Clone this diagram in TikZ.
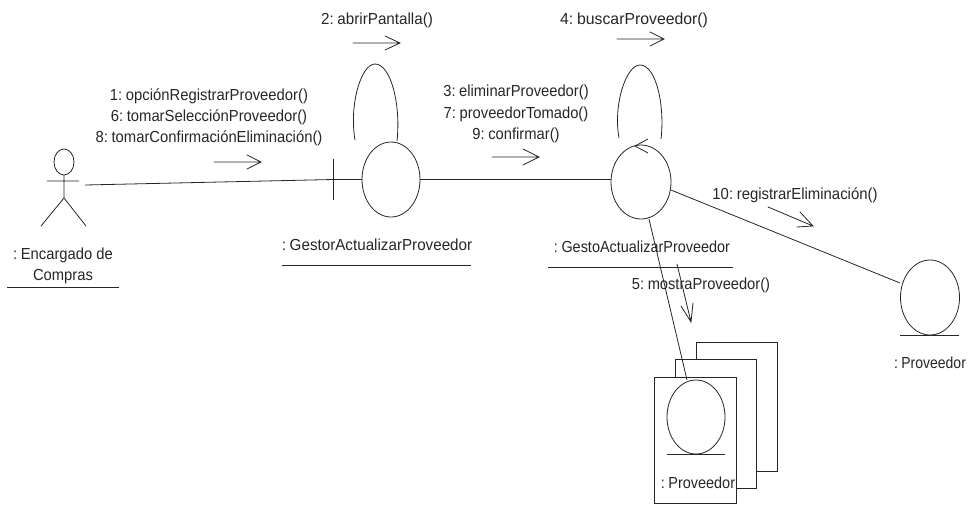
\documentclass[tikz,border=0pt]{standalone}
\usepackage{fontspec}
\setmainfont[FakeStretch=0.95,WordSpace=0.55]{Liberation Sans}
\begin{document}
\begin{tikzpicture}[x=0.75pt,y=-0.75pt,
  lbl/.style={inner sep=0pt,align=center,font=\fontsize{12pt}{15.9pt}\selectfont,text=black!85},
  squeeze/.style={xscale=#1,transform shape},
  ln/.style={draw=black!85,line width=0.6pt},
  msg/.style={ln,line cap=round}]
\useasboundingbox (0,0) rectangle (968,504);
% actor
\draw[ln] (64,162) ellipse [x radius=10,y radius=13];
\coordinate (neck) at (64,175);
\coordinate (hip) at (64,198);
\coordinate (armL) at (47,181);
\coordinate (armR) at (79,181);
\coordinate (legL) at (41,226);
\coordinate (legR) at (86,226);
\coordinate (actorEnd) at (85,185);
\draw[ln] (neck) -- (hip) (armL) -- (armR) (legL) -- (hip) -- (legR);
\node[lbl,squeeze=.97] (actorName) at (63,266) {: Encargado\hspace{1.5pt} de\\Compras};
\draw[ln] (7,287) -- (119,287);
% boundary
\coordinate (bTop) at (333,159);
\coordinate (bBot) at (333,200);
\coordinate (bMid) at (333,179.5);
\draw[ln] (bTop) -- (bBot);
\draw[ln] (391,179.5) ellipse [x radius=29,y radius=37.5];
\coordinate (gW) at (362,179.5);
\coordinate (gE) at (420,179.5);
\draw[ln] (actorEnd) -- (bMid) -- (gW);
\node[lbl] (gName) at (377,245) {: GestorActualizarProveedor};
\draw[ln] (282,265) -- (471,265);
% control
\draw[ln] (641,182) ellipse [x radius=30,y radius=37];
\coordinate (cW) at (611,179.5);
\draw[ln] (gE) -- (cW);
\draw[ln] (648,139) -- (635,146) -- (648,153);
\node[lbl,squeeze=.95] (cName) at (642,247) {: GestoActualizarProveedor};
\draw[ln] (548,267) -- (733,267);
% loops
\draw[ln] (355,140) .. controls (349,105) and (361,64) .. (375,64) .. controls (391,64) and (401,105) .. (397,141);
\draw[ln] (619,138) .. controls (613,105) and (626,65) .. (640,65) .. controls (656,65) and (665,105) .. (661,139);
% right entity
\draw[ln] (930,297.5) ellipse [x radius=29.5,y radius=37.5];
\draw[ln] (900,335) -- (959,335);
\node[lbl,squeeze=.92] (pName) at (930,363) {: Proveedor};
\coordinate (cE) at (671,190);
\coordinate (pW) at (900,283);
\draw[ln] (cE) -- (pW);
% multi-object
\draw[ln] (696,359) -- (696,342) -- (777,342) -- (777,471) -- (756,471);
\draw[ln] (675,377) -- (675,359) -- (756,359) -- (756,488) -- (736,488);
\draw[ln] (654,377) rectangle (736,503);
\draw[ln] (696,417) ellipse [x radius=29,y radius=37];
\draw[ln] (667,454) -- (725,454);
\node[lbl,squeeze=.95] (mName) at (698,483) {: Proveedor};
\coordinate (cS) at (649,219);
\coordinate (mN) at (687,380);
\draw[ln] (cS) -- (mN);
% messages
\node[lbl,squeeze=.975] (m1) at (209,117) {1: opciónRegistrarProveedor()\\6: tomarSelecciónProveedor()\\8: tomarConfirmaciónEliminación()};
\node[lbl] (m2) at (377,20) {2: abrirPantalla()};
\node[lbl,squeeze=.97] (m3) at (516,114) {3: eliminarProveedor()\\7: proveedorTomado()\\9: confirmar()};
\node[lbl,squeeze=1.04] (m4) at (634,20) {4: buscarProveedor()};
\node[lbl,squeeze=.965] (m5) at (701,285) {5: mostraProveedor()};
\node[lbl,squeeze=.98] (m10) at (795,195) {10: registrarEliminación()};
\draw[msg] (214,162) -- (261,162) (247,155) -- (261,162) -- (247,169);
\draw[msg] (353,43) -- (400,43) (385,36) -- (400,43) -- (385,50);
\draw[msg] (492,157) -- (539,157) (523,149) -- (539,157) -- (523,165);
\draw[msg] (617,39) -- (664,39) (650,32) -- (664,39) -- (650,46);
\draw[msg] (768,207) -- (813,226) (797,227) -- (813,226) -- (800,212);
\draw[msg] (677,264) -- (691,322) (681,306) -- (691,322) -- (693,303);
\end{tikzpicture}
\end{document}
